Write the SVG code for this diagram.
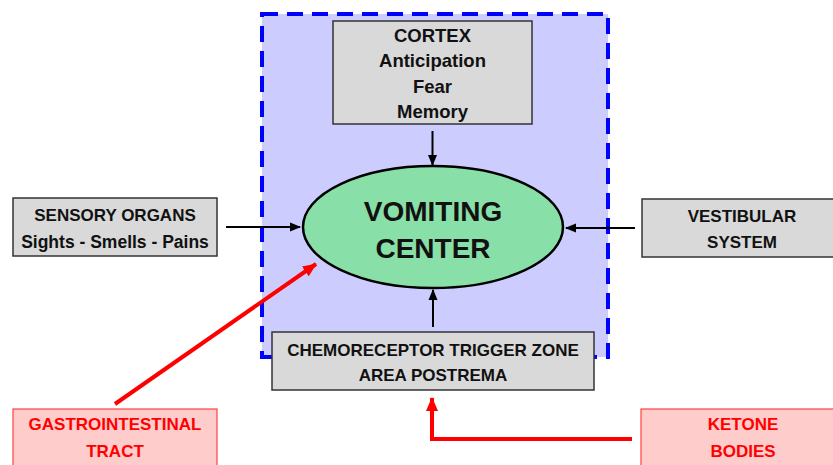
<svg xmlns="http://www.w3.org/2000/svg" width="833" height="465" viewBox="0 0 833 465">
<style>
.box{fill:#d9d9d9;stroke:#333;stroke-width:1.5}
.rbox{fill:#ffcccc;stroke:#ff4040;stroke-width:1.2}
.t{font-family:"Liberation Sans",Arial,sans-serif;font-weight:bold;font-size:17px;text-anchor:middle;fill:#111}
.c{font-size:18.5px}
.rt{fill:#ff0000}
.blk{stroke:#000;stroke-width:2;fill:none}
.red{stroke:#ff0000;stroke-width:4;fill:none}
</style>
<defs>
<marker id="ab" markerWidth="11" markerHeight="11" refX="10" refY="5.5" orient="auto" markerUnits="userSpaceOnUse">
<path d="M0,1 L11,5.5 L0,10 Z" fill="#000"/>
</marker>
<marker id="ar" markerWidth="14" markerHeight="14" refX="13" refY="7" orient="auto" markerUnits="userSpaceOnUse">
<path d="M0,1 L14,7 L0,13 Z" fill="#ff0000"/>
</marker>
</defs>
<rect id="region" x="262" y="14" width="346" height="343" fill="#ccccff" stroke="#0000ff" stroke-width="4" stroke-dasharray="16,9"/>
<g id="cortex">
<rect class="box" x="333" y="21" width="199" height="103"/>
<text class="t c" x="432.5" y="42">CORTEX</text>
<text class="t c" x="432.5" y="67">Anticipation</text>
<text class="t c" x="432.5" y="93">Fear</text>
<text class="t c" x="432.5" y="118">Memory</text>
</g>
<g id="center">
<ellipse cx="433" cy="227" rx="130" ry="61" fill="#88e0a8" stroke="#000" stroke-width="2.5"/>
<text class="t" x="433" y="221" style="font-size:28px">VOMITING</text>
<text class="t" x="433" y="258" style="font-size:28px">CENTER</text>
</g>
<g id="sensory">
<rect class="box" x="13" y="198" width="204" height="58"/>
<text class="t" x="115" y="221">SENSORY ORGANS</text>
<text class="t" x="115" y="248" style="font-size:17.5px">Sights - Smells - Pains</text>
</g>
<g id="vestibular">
<rect class="box" x="642" y="199" width="200" height="58"/>
<text class="t" x="742" y="222">VESTIBULAR</text>
<text class="t" x="742" y="248">SYSTEM</text>
</g>
<g id="ctz">
<rect class="box" x="272" y="332" width="322" height="58"/>
<text class="t" x="433" y="356">CHEMORECEPTOR TRIGGER ZONE</text>
<text class="t" x="433" y="381">AREA POSTREMA</text>
</g>
<g id="gi">
<rect class="rbox" x="13" y="409" width="204" height="70"/>
<text class="t rt" x="115" y="430">GASTROINTESTINAL</text>
<text class="t rt" x="115" y="457">TRACT</text>
</g>
<g id="ketone">
<rect class="rbox" x="641" y="409" width="200" height="70"/>
<text class="t rt" x="743" y="430">KETONE</text>
<text class="t rt" x="743" y="457">BODIES</text>
</g>
<g id="connectors">
<line class="blk" x1="432.5" y1="131" x2="432.5" y2="165" marker-end="url(#ab)"/>
<line class="blk" x1="226" y1="227" x2="300" y2="227" marker-end="url(#ab)"/>
<line class="blk" x1="635" y1="228" x2="566" y2="228" marker-end="url(#ab)"/>
<line class="blk" x1="433" y1="327" x2="433" y2="290" marker-end="url(#ab)"/>
<line class="red" x1="115" y1="404" x2="316" y2="264" marker-end="url(#ar)"/>
<polyline class="red" points="632,439 432,439 432,398" marker-end="url(#ar)"/>
</g>
</svg>
